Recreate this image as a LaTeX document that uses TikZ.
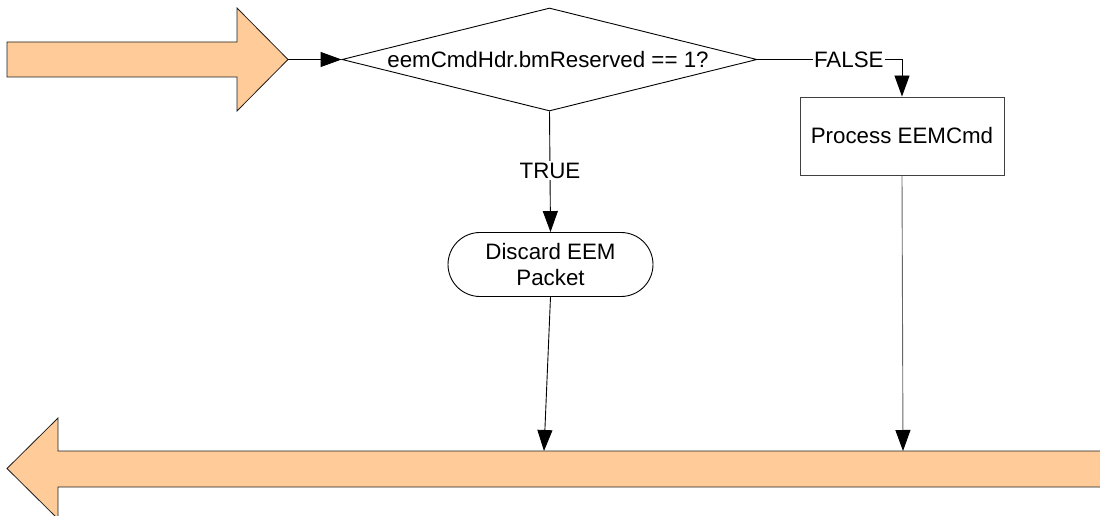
\documentclass[tikz,border=0pt]{standalone}
\usepackage{fontspec}
\setmainfont{Liberation Sans}
\usetikzlibrary{arrows.meta,shapes.geometric}
\definecolor{peach}{RGB}{255,204,153}
\definecolor{edge}{RGB}{30,30,30}
\tikzset{
  fat/.style={draw=edge, fill=peach, line width=0.8bp, line join=miter},
  conn/.style={draw=black, line width=0.9bp, -{Triangle[length=21bp,width=15bp,black]}},
  greyconn/.style={conn, draw=black!60},
  boxnode/.style={draw=black!80, line width=0.9bp, fill=white, inner sep=0pt,
    font=\fontsize{22.4}{27}\selectfont, align=center},
  lbl/.style={fill=white, inner sep=1.5bp, font=\fontsize{22.4}{27}\selectfont}
}
\begin{document}
\begin{tikzpicture}[x=1bp,y=-1bp]
\useasboundingbox (0,0) rectangle (1100,516);
\clip (0,0) rectangle (1100,516);
% incoming fat arrow
\draw[fat] (7,42) -- (237,42) -- (237,8) -- (288,59.5) -- (237,111) -- (237,77) -- (7,77) -- cycle;
\coordinate (inarrow) at (288,59.5);
% outgoing fat arrow
\draw[fat] (1115,451) -- (58,451) -- (58,418) -- (7,468.5) -- (58,519) -- (58,487) -- (1115,487) -- cycle;
\coordinate (out1) at (544,451);
\coordinate (out2) at (903,451);
% decision
\node[diamond, draw=black, line width=0.9bp, minimum width=415bp, minimum height=103bp, inner sep=0pt] (dec) at (549.5,59.5) {};
\node[font=\fontsize{22.4}{27}\selectfont, inner sep=0pt] (dect) at (548,59.5) {eemCmdHdr.bmReserved == 1?};
% process
\node[boxnode, draw=black!75, minimum width=204bp, minimum height=78bp] (proc) at (902,136) {Process EEMCmd};
% discard
\node[boxnode, draw=black, minimum width=205bp, minimum height=64bp, rounded corners=32bp] (disc) at (550.5,264.5) {Discard EEM\\Packet};
% connectors
\draw[conn] (inarrow) -- (dec.west);
\draw[conn] (dec.east) -| node[lbl, pos=0.316] {FALSE} (proc.north);
\draw[conn] (dec.south) -- node[lbl, pos=0.49] {TRUE} (disc.north);
\draw[conn] (disc.south) -- (out1);
\draw[greyconn] (proc.south) -- (out2);
\end{tikzpicture}
\end{document}
